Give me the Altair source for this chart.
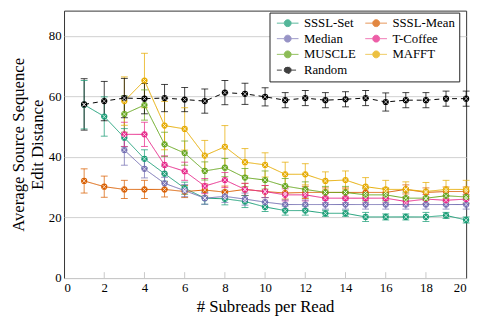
import altair as alt
import pandas as pd

names = ["SSSL-Set", "SSSL-Mean", "Median", "T-Coffee", "MUSCLE", "MAFFT", "Random"]
colors = ["#1b9e77", "#d95f02", "#7570b3", "#e7298a", "#66a61e", "#e6ab02", "#000000"]

x_all = list(range(1, 21))
x_from3 = list(range(3, 21))

sssl_set = [57.3, 53.4, 46.4, 39.4, 34.5, 29.7, 26.4, 26.2, 25.3, 23.5, 22.3, 22.3, 21.4, 21.4, 20.2, 20.2, 20.2, 20.2, 20.7, 19.2]
sssl_set_err = [8, 6.5, 3, 3, 2.5, 2, 2, 2, 2, 1.5, 1.5, 1.5, 1, 1, 1.5, 1, 1, 1.5, 1, 1]
sssl_mean = [32.1, 30.2, 29.3, 29.3, 29.3, 28.6, 29.1, 28.4, 29.3, 28.6, 28.1, 28.3, 28.3, 28.3, 28.3, 28.3, 29.3, 28.3, 28.6, 28.6]
sssl_mean_err = [4, 3.5, 3, 3, 2.5, 2, 2, 2, 2, 2, 2, 2, 1.5, 1.5, 1.5, 1.5, 1.5, 1.5, 1.5, 1.5]
median = [42.3, 36.1, 31.3, 28.9, 26.4, 27.0, 26.1, 25.1, 24.3, 24.3, 24.3, 24.3, 24.3, 24.3, 24.3, 24.3, 24.3, 24.3]
median_err = [5, 3, 2, 2, 2, 2, 2, 1.5, 1.5, 1.5, 1.5, 1.5, 1.5, 1.5, 1.5, 1.5, 1.5, 1.5]
tcoffee = [47.5, 47.5, 37.4, 35.3, 30.4, 32.4, 29.3, 28.6, 27.5, 27.5, 26.4, 26.4, 26.4, 26.4, 25.3, 26.1, 25.7, 26.1]
tcoffee_err = [4, 4, 3, 3, 2.5, 2.5, 2, 2, 2, 2, 1.5, 1.5, 1.5, 1.5, 1.5, 1.5, 1.5, 1.5]
muscle = [54.2, 57.2, 44.2, 41.3, 35.4, 36.5, 33.2, 32.4, 30.4, 29.3, 28.3, 28.3, 27.5, 27.5, 26.4, 26.4, 27.2, 26.8]
muscle_err = [6, 5, 4, 4, 3, 3, 3, 3, 2.5, 2.5, 2, 2, 2, 2, 2, 2, 2, 2]
mafft = [58.5, 65.3, 50.4, 49.3, 40.5, 43.4, 38.3, 37.4, 34.3, 34.3, 32.1, 32.4, 30.2, 29.3, 29.3, 28.6, 29.3, 29.3]
mafft_err = [8, 9, 8, 7, 5, 7, 4.5, 4, 4, 3.5, 3, 3, 3, 3, 2.5, 3, 3, 3]
random_ = [57.4, 58.5, 59.5, 59.3, 59.5, 59.0, 58.5, 61.3, 60.9, 59.9, 58.8, 59.5, 58.8, 59.1, 59.5, 58.2, 58.8, 58.8, 59.3, 59.3]
random_err = [8.5, 6.5, 6.5, 5, 4.5, 4, 4, 4, 3.5, 3, 2.5, 2.5, 2.5, 2.5, 2.5, 3, 2.5, 2.5, 2.5, 2.5]

x_ticks = list(range(0, 21, 2))
y_ticks = [0, 20, 40, 60, 80]

series = [
    ("SSSL-Set", x_all, sssl_set, sssl_set_err),
    ("SSSL-Mean", x_all, sssl_mean, sssl_mean_err),
    ("Median", x_from3, median, median_err),
    ("T-Coffee", x_from3, tcoffee, tcoffee_err),
    ("MUSCLE", x_from3, muscle, muscle_err),
    ("MAFFT", x_from3, mafft, mafft_err),
    ("Random", x_all, random_, random_err),
]
rows = []
for order, (name, xs, ys, es) in enumerate(series):
    for xv, yv, ev in zip(xs, ys, es):
        rows.append({"series": name, "order": order, "x": xv, "y": yv, "lo": yv - ev, "hi": yv + ev})
df = pd.DataFrame(rows)

FONT = "Liberation Serif"
cscale = alt.Scale(domain=names, range=colors)
xscale = alt.Scale(domain=[0, 20], nice=False)
yscale = alt.Scale(domain=[0, 88.4], nice=False)
xaxis = alt.Axis(values=x_ticks, title="# Subreads per Read", grid=False,
                 domain=False, ticks=False, labelPadding=4, titlePadding=4)
yaxis = alt.Axis(values=y_ticks, title=["Average Source Sequence", "Edit Distance"],
                 grid=True, gridColor="#d0d0d0", domain=False, ticks=False,
                 labelPadding=3, titlePadding=2, titleLineHeight=19)


def X(field):
    return alt.X(field, scale=xscale, axis=xaxis)


def Y(field):
    return alt.Y(field, scale=yscale, axis=yaxis)


base = alt.Chart(df)

ticks_in = alt.Chart(pd.DataFrame({"x": x_ticks[1:-1]})).mark_rule(color="#c8c8c8", strokeWidth=1).encode(
    x=X("x:Q"), y=alt.value(272), y2=alt.value(266))

legend = alt.Legend(title=None, orient="none", legendX=209, legendY=2, columns=2, direction="horizontal",
                    strokeColor="#222222", fillColor="white", padding=4,
                    symbolType="M-2.2,0L-0.7,0M0.7,0L2.2,0M0.7,0A0.7,0.7,0,1,1,-0.7,0A0.7,0.7,0,1,1,0.7,0",
                    symbolSize=100, symbolStrokeWidth=1, symbolOffset=8, labelOffset=10,
                    labelFont=FONT, labelFontSize=13, labelColor="#000000",
                    rowPadding=2, columnPadding=6)

col = alt.Color("series:N", scale=cscale, legend=legend, sort=names)

err = base.mark_rule(strokeWidth=1, opacity=0.75).encode(
    x=X("x:Q"), y=Y("lo:Q"), y2="hi:Q", color=col)
cap_lo = base.mark_tick(orient="horizontal", size=7, thickness=1, opacity=0.75).encode(
    x=X("x:Q"), y=Y("lo:Q"), color=col)
cap_hi = base.mark_tick(orient="horizontal", size=7, thickness=1, opacity=0.75).encode(
    x=X("x:Q"), y=Y("hi:Q"), color=col)

lines = base.mark_line(strokeWidth=1).encode(
    x=X("x:Q"), y=Y("y:Q"), color=col,
    strokeDash=alt.StrokeDash("series:N", scale=alt.Scale(domain=names, range=[[1, 0]] * 6 + [[5, 4]]), legend=None),
    order="x:Q")

pts = base.mark_point(filled=True, size=40, opacity=1).encode(
    x=X("x:Q"), y=Y("y:Q"), color=col)

cross = base.mark_point(shape="M-1,-1L1,1M-1,1L1,-1", size=14, filled=False, color="white",
                        strokeWidth=0.8, opacity=0.9).encode(x=X("x:Q"), y=Y("y:Q"))

chart = alt.layer(err, cap_lo, cap_hi, lines, pts, cross, ticks_in).properties(
    width=409, height=272,
    background="white",
    autosize=alt.AutoSizeParams(type="none"),
    padding={"left": 57, "top": 0, "right": 8, "bottom": 40},
).configure_view(stroke="#333333", strokeWidth=1).configure_axis(
    labelFont=FONT, titleFont=FONT, labelFontSize=13, titleFontSize=17,
    labelColor="#000000", titleColor="#000000", titleFontWeight="normal"
).configure_legend(labelFont=FONT, labelFontSize=13, labelColor="#000000")

chart.save("out.html", embed_options={"renderer": "svg", "actions": False})
